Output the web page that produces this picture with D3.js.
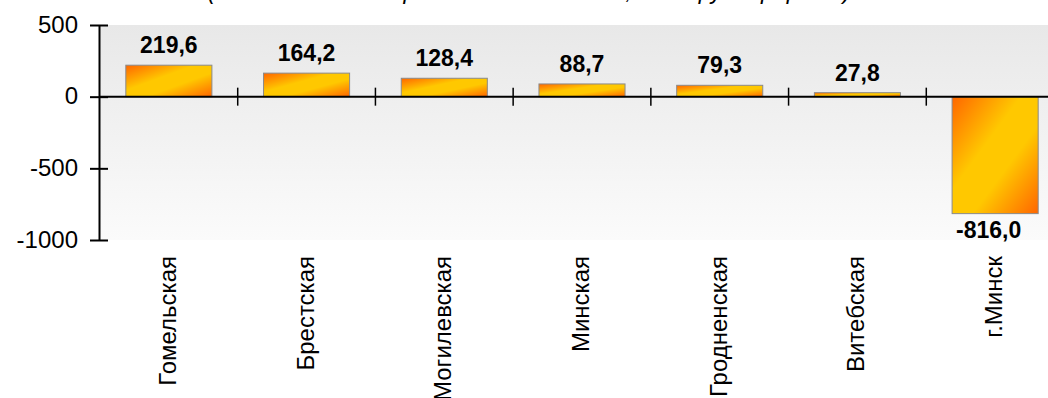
<!DOCTYPE html>
<html>
<head>
<meta charset="utf-8">
<script src="https://cdn.jsdelivr.net/npm/d3@7"></script>
<style>
  html, body { margin: 0; padding: 0; background: #fff; overflow: hidden; }
  svg { display: block; font-family: "Liberation Sans", Arial, sans-serif; }
</style>
</head>
<body>
<div id="chart"></div>
<script>
var regions = ["Гомельская", "Брестская", "Могилевская", "Минская", "Гродненская", "Витебская", "г.Минск"];
var values = [219.6, 164.2, 128.4, 88.7, 79.3, 27.8, -816.0];
var valueLabels = ["219,6", "164,2", "128,4", "88,7", "79,3", "27,8", "-816,0"];
var yTicks = [500, 0, -500, -1000];
var title = "(отклонение от среднего показателя, тыс. руб. прирост)";

var width = 1048, height = 398;

var svg = d3.select("#chart").append("svg")
    .attr("width", width)
    .attr("height", height);

var defs = svg.append("defs");

var bg = defs.append("linearGradient")
    .attr("id", "plotBg")
    .attr("x1", 0).attr("y1", 0).attr("x2", 0).attr("y2", 1);
bg.append("stop").attr("offset", 0).attr("stop-color", "#e8e8e8");
bg.append("stop").attr("offset", 1).attr("stop-color", "#fbfbfb");

var barGrad = defs.append("linearGradient")
    .attr("id", "barFill")
    .attr("x1", 0).attr("y1", 0).attr("x2", 1).attr("y2", 1);
barGrad.append("stop").attr("offset", 0).attr("stop-color", "#ff6600");
barGrad.append("stop").attr("offset", 0.4).attr("stop-color", "#ffc800");
barGrad.append("stop").attr("offset", 0.62).attr("stop-color", "#ffc800");
barGrad.append("stop").attr("offset", 1).attr("stop-color", "#ff6600");

var plotLeft = 99, plotTop = 25, plotBottom = 240;

var x = d3.scaleBand()
    .domain(regions)
    .range([plotLeft + 1, 1064])
    .paddingInner(0.375)
    .paddingOuter(0.1875);

var y = d3.scaleLinear()
    .domain([-1000, 500])
    .range([plotBottom, plotTop]);

// title, mostly cut off at the top edge (as in the source)
svg.append("text")
    .attr("x", 529)
    .attr("y", -1)
    .attr("text-anchor", "middle")
    .style("font-size", "23px")
    .style("font-style", "italic")
    .style("fill", "#000")
    .text(title);

// plot background
svg.append("rect")
    .attr("x", plotLeft)
    .attr("y", plotTop)
    .attr("width", width - plotLeft)
    .attr("height", plotBottom - plotTop)
    .style("fill", "url(#plotBg)");

// bars
svg.selectAll(".bar")
    .data(values)
  .enter().append("rect")
    .attr("class", "bar")
    .attr("x", function(d, i) { return x(regions[i]); })
    .attr("y", function(d) { return y(Math.max(0, d)); })
    .attr("width", x.bandwidth())
    .attr("height", function(d) { return Math.abs(y(d) - y(0)); })
    .style("fill", "url(#barFill)")
    .style("stroke", "#8a8a8a")
    .style("stroke-width", 1);

// value labels
svg.selectAll(".valLabel")
    .data(values)
  .enter().append("text")
    .attr("class", "valLabel")
    .attr("x", function(d, i) { return x(regions[i]) + x.bandwidth() / 2; })
    .attr("y", function(d) { return d >= 0 ? y(d) - 12 : y(d) + 24; })
    .attr("dx", function(d) { return d < 0 ? "-0.28em" : 0; })
    .attr("text-anchor", "middle")
    .style("font-size", "23px")
    .style("font-weight", "bold")
    .style("fill", "#000")
    .text(function(d, i) { return valueLabels[i]; });

// y axis
var yAxis = d3.axisLeft(y)
    .tickValues(yTicks)
    .tickSizeInner(9)
    .tickSizeOuter(0)
    .tickPadding(12)
    .tickFormat(function(d) { return d; });

var gy = svg.append("g")
    .attr("transform", "translate(" + plotLeft + ",0)")
    .call(yAxis);
gy.select(".domain").style("stroke", "#000").style("stroke-width", 2);
gy.selectAll(".tick line").attr("x1", 9).style("stroke", "#000").style("stroke-width", 2);
gy.selectAll(".tick text")
    .attr("x", -21)
    .attr("dy", "0.3em")
    .style("font-size", "24px")
    .style("font-family", "'Liberation Sans', Arial, sans-serif")
    .style("fill", "#000");

// x axis line at zero with ticks between categories
var y0 = y(0);
svg.append("line")
    .attr("x1", plotLeft)
    .attr("x2", width)
    .attr("y1", y0)
    .attr("y2", y0)
    .style("stroke", "#000")
    .style("stroke-width", 2);

var gap = x.step() - x.bandwidth();
svg.selectAll(".xTick")
    .data(regions.slice(0, regions.length - 1))
  .enter().append("line")
    .attr("class", "xTick")
    .attr("x1", function(d) { return x(d) + x.bandwidth() + gap / 2; })
    .attr("x2", function(d) { return x(d) + x.bandwidth() + gap / 2; })
    .attr("y1", y0 - 9)
    .attr("y2", y0 + 9)
    .style("stroke", "#000")
    .style("stroke-width", 1.5);

// category labels, rotated
svg.selectAll(".catLabel")
    .data(regions)
  .enter().append("text")
    .attr("class", "catLabel")
    .attr("transform", function(d) {
      return "translate(" + (x(d) + x.bandwidth() / 2 + 7) + ",256) rotate(-90)";
    })
    .attr("text-anchor", "end")
    .style("font-size", "24px")
    .style("fill", "#000")
    .text(function(d) { return d; });
</script>
</body>
</html>
